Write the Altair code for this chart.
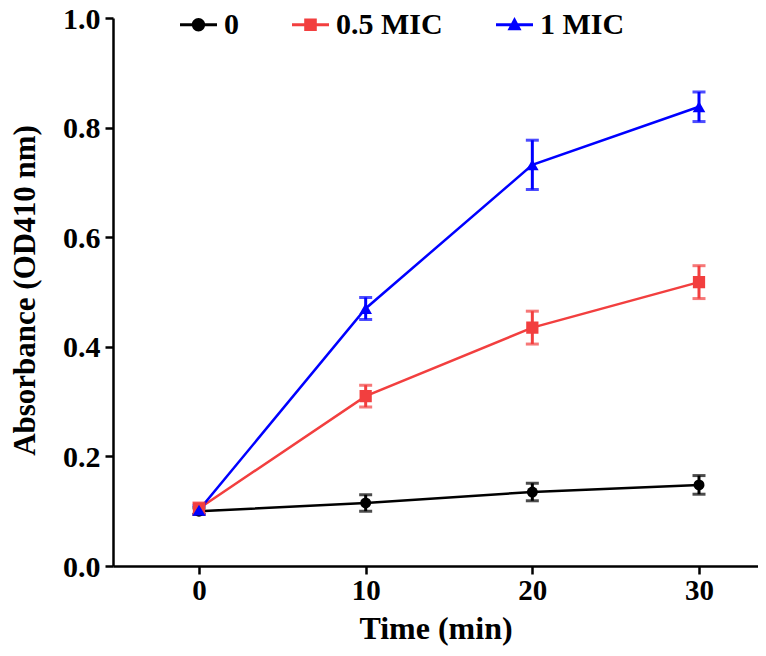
import altair as alt
import pandas as pd

# ---- data ----
times = [0, 10, 20, 30]
series_names = ["0", "0.5 MIC", "1 MIC"]
od_0 = [0.100, 0.115, 0.135, 0.148]
sd_0 = [0.006, 0.015, 0.016, 0.017]
od_05 = [0.105, 0.310, 0.435, 0.518]
sd_05 = [0.010, 0.020, 0.030, 0.030]
od_1 = [0.102, 0.470, 0.732, 0.838]
sd_1 = [0.008, 0.020, 0.045, 0.027]
x_ticks = [0, 10, 20, 30]
y_ticks = [0.0, 0.2, 0.4, 0.6, 0.8, 1.0]

# ---- styling ----
colors = ["#000000", "#f23f3f", "#0000ff"]
shapes = ["circle", "square", "triangle-up"]
marker_sizes = [120, 150, 160]
LINE = "M-1,-0.085H1V0.085H-1Z"
legend_paths = [
    LINE + "M0.36,0A0.36,0.36,0,1,1,-0.36,0A0.36,0.36,0,1,1,0.36,0Z",
    LINE + "M-0.34,-0.34H0.34V0.34H-0.34Z",
    LINE + "M0,-0.42L0.38,0.3H-0.38Z",
]

rows = []
for name, vals, sds in [("0", od_0, sd_0), ("0.5 MIC", od_05, sd_05), ("1 MIC", od_1, sd_1)]:
    for t, v, s in zip(times, vals, sds):
        rows.append({"time": t, "series": name, "od": v, "lo": v - s, "hi": v + s})
df = pd.DataFrame(rows)

FONT = "Liberation Serif"
Y_TITLE = "Absorbance (OD410 nm)"

x_enc = alt.X(
    "time:Q",
    scale=alt.Scale(domain=[-5.16, 33.54], nice=False, zero=False),
    axis=alt.Axis(values=x_ticks, title="Time (min)", labelFontSize=29, labelPadding=2,
                  titleFontSize=32, titleY=62, titleBaseline="middle", format="d"),
)


def y_enc(field):
    return alt.Y(
        field + ":Q",
        scale=alt.Scale(domain=[0, 1], nice=False, zero=True),
        axis=alt.Axis(values=y_ticks, format=".1f", title=Y_TITLE, labelFontSize=30,
                      labelPadding=5, labelOffset=1, titleFontSize=31, titleX=-88,
                      titleY=272, titleAngle=-90, titleAlign="center",
                      titleBaseline="middle"),
        title=Y_TITLE,
    )


# colour scale of the visible marks: data-driven domain (kept apart from the legend's)
color = alt.Color("series:N", scale=alt.Scale(range=colors), legend=None)

base = alt.Chart(df)

lines = base.mark_line(strokeWidth=2.5).encode(x=x_enc, y=y_enc("od"), color=color)
bars = base.mark_rule(strokeWidth=3).encode(x=x_enc, y=y_enc("lo"), y2="hi:Q", color=color)
cap_lo = base.mark_tick(orient="horizontal", size=13, thickness=3).encode(
    x=x_enc, y=y_enc("lo"), color=color)
cap_hi = base.mark_tick(orient="horizontal", size=13, thickness=3).encode(
    x=x_enc, y=y_enc("hi"), color=color)

point_layers = []
for name, shp, sz in zip(series_names, shapes, marker_sizes):
    point_layers.append(
        base.transform_filter(alt.datum.series == name)
        .mark_point(filled=True, opacity=1, shape=shp, size=sz)
        .encode(x=x_enc, y=y_enc("od"), color=color)
    )

leg = alt.Legend(
    title=None, orient="none", direction="horizontal", legendX=67, legendY=-12,
    labelFont=FONT, labelFontWeight="bold", labelFontSize=30, labelColor="black",
    symbolSize=1369, symbolStrokeWidth=0, symbolOpacity=1, labelOffset=7,
    columnPadding=53, padding=0,
)
legend_layer = base.mark_point(filled=True, opacity=0).encode(
    x=x_enc, y=y_enc("od"),
    fill=alt.Fill("series:N", scale=alt.Scale(domain=series_names, range=colors), legend=leg),
    shape=alt.Shape("series:N", scale=alt.Scale(domain=series_names, range=legend_paths), legend=leg),
)

chart = (
    alt.layer(lines, bars, cap_lo, cap_hi, *point_layers, legend_layer)
    .properties(width=645, height=548,
                autosize=alt.AutoSizeParams(type="none"),
                padding={"left": 105, "top": 10, "right": 0, "bottom": 82})
    .configure_view(stroke=None)
    .configure_axis(
        grid=False, domainColor="black", domainWidth=2.5, tickColor="black",
        tickWidth=2.5, tickSize=8, labelFont=FONT, labelFontWeight="bold",
        labelColor="black", titleFont=FONT, titleFontWeight="bold", titleColor="black",
    )
)

chart.save("out.html", embed_options={"renderer": "svg", "actions": False})
